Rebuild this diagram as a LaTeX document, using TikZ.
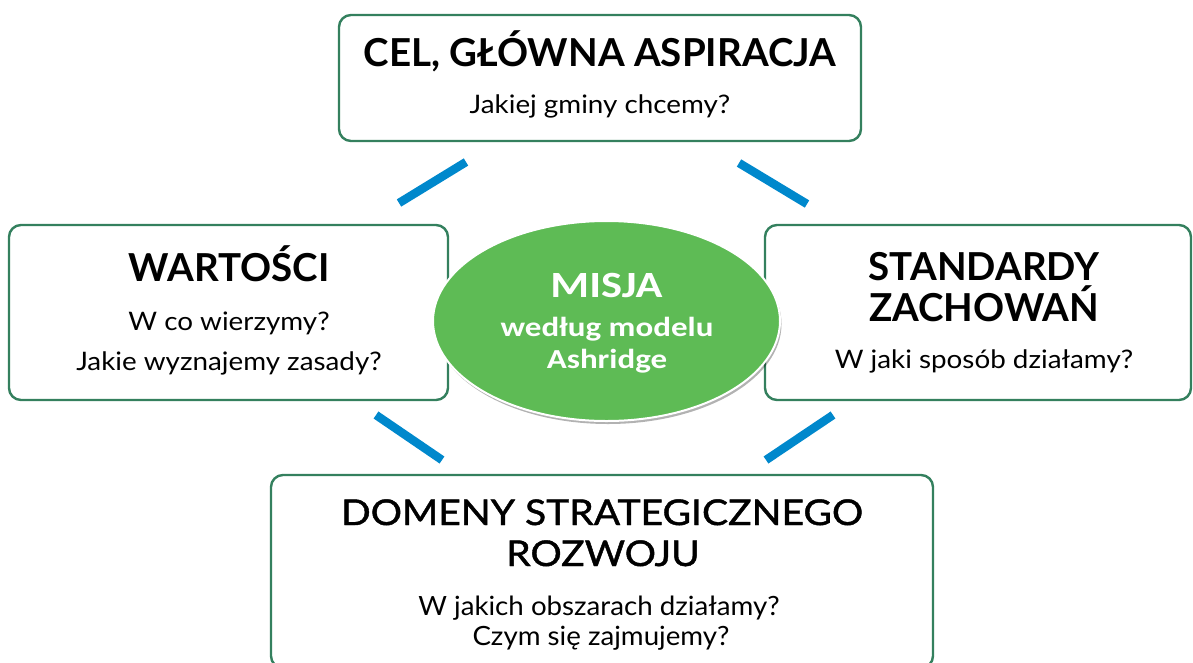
\documentclass[tikz,border=0pt]{standalone}
\usepackage{fontspec}
\setmainfont{Lato}
\newfontfamily\latosub[FakeStretch=1.09]{Lato}
\newfontfamily\latobsub[FakeStretch=1.045]{Lato}
\newfontfamily\latomed[FakeBold=1.2,FakeStretch=1.1]{Lato}
\newfontfamily\carl[FakeStretch=1.2]{Carlito}
\usetikzlibrary{shapes.geometric,shadows}
\definecolor{boxgreen}{RGB}{52,128,94}
\definecolor{misjagreen}{RGB}{94,187,85}
\definecolor{barblue}{RGB}{0,136,204}
\tikzset{
  panel/.style={draw=boxgreen, line width=2.4pt, rounded corners=12pt, fill=white},
  bar/.style={draw=barblue, line width=8.5pt},
  head/.style={anchor=base, inner sep=0pt, font=\bfseries\fontsize{38.5}{44}\selectfont},
  sub/.style={anchor=base, inner sep=0pt, font=\latosub\fontsize{25.5}{30}\selectfont},
  bhead/.style={anchor=base, inner sep=0pt, font=\latomed\fontsize{35.5}{42}\selectfont},
  bsub/.style={anchor=base, inner sep=0pt, font=\latobsub\fontsize{26.5}{31}\selectfont},
  mhead/.style={anchor=base, inner sep=0pt, text=white, font=\carl\bfseries\fontsize{37}{44}\selectfont},
  msub/.style={anchor=base, inner sep=0pt, text=white, font=\carl\bfseries\fontsize{27.5}{33}\selectfont},
}
\begin{document}
\begin{tikzpicture}[x=1pt,y=-1pt]
\useasboundingbox (0,0) rectangle (1193,662);
% boxes
\draw[panel] (339,15) rectangle (861,141);
\node[inner sep=0pt] (top) at (600,78) {};
\draw[panel] (9,225) rectangle (448,400);
\node[inner sep=0pt] (left) at (228,312) {};
\draw[panel] (765,225) rectangle (1191,400);
\node[inner sep=0pt] (right) at (978,312) {};
\draw[panel] (271,475) rectangle (933,668);
\node[inner sep=0pt] (bottom) at (602,570) {};
% mission ellipse
\node[ellipse, draw=white, line width=2pt, fill=misjagreen, minimum width=347pt, minimum height=200pt,
      drop shadow={shadow xshift=1.5pt, shadow yshift=-3pt, opacity=0.3, fill=black}] (misja) at (606.5,321) {};
% texts
\node[head] (t1) at (600,66.7) {CEL, GŁÓWNA ASPIRACJA};
\node[sub] (t2) at (600,113.3) {Jakiej gminy chcemy?};
\node[head] (l1) at (229,281.7) {WARTOŚCI};
\node[sub] (l2) at (229,330) {W co wierzymy?};
\node[sub] (l3) at (229,370) {Jakie wyznajemy zasady?};
\node[head] (r1) at (984,280) {STANDARDY};
\node[head] (r2) at (984,321) {ZACHOWAŃ};
\node[sub] (r3) at (984,368.3) {W jaki sposób działamy?};
\node[bhead] (b1) at (602,525) {DOMENY STRATEGICZNEGO};
\node[bhead] (b2) at (603,566) {ROZWOJU};
\node[bsub] (b3) at (599,615) {W jakich obszarach działamy?};
\node[bsub] (b4) at (601,645.7) {Czym się zajmujemy?};
\node[mhead] (m1) at (606.5,297.3) {MISJA};
\node[msub] (m2) at (607,336) {według modelu};
\node[msub] (m3) at (607,368.3) {Ashridge};
% connector bars
\coordinate (a1) at (399,203); \coordinate (a2) at (466,162);
\coordinate (b1c) at (739,163); \coordinate (b2c) at (807,204);
\coordinate (c1) at (376,415); \coordinate (c2) at (442,460);
\coordinate (d1) at (766,460); \coordinate (d2) at (833,415);
\draw[bar] (a1) -- (a2);
\draw[bar] (b1c) -- (b2c);
\draw[bar] (c1) -- (c2);
\draw[bar] (d1) -- (d2);
\end{tikzpicture}
\end{document}
